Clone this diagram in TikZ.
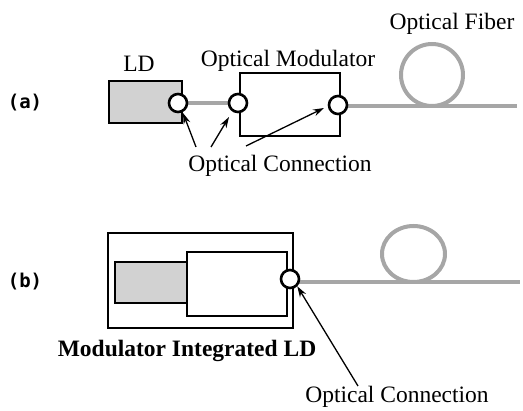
\documentclass[tikz,border=0pt]{standalone}
\usepackage{fontspec}
\setmainfont{Liberation Serif}
\newfontfamily\labfont{DejaVu Sans Mono}
\usetikzlibrary{arrows.meta}
\tikzset{
  box/.style={draw=black, line width=2.6pt},
  ldfill/.style={fill=gray!35},
  fiber/.style={draw=gray!70, line width=4pt},
  conn/.style={circle, draw=black, line width=2.6pt, fill=white, minimum size=18pt, inner sep=0pt},
  txt/.style={inner sep=0pt, anchor=base, font=\fontsize{23.5}{28}\selectfont},
  lab/.style={inner sep=0pt, font=\labfont\bfseries\fontsize{19}{22}\selectfont},
  pointer/.style={draw=black, line width=1.3pt, -{Stealth[length=11pt,width=7pt]}}
}
\begin{document}
\begin{tikzpicture}[x=1pt,y=-1pt]
\useasboundingbox (0,0) rectangle (523,411);
% ---------- (a) ----------
\node[lab] (la) at (25,103) {(a)};
\draw[fiber] (432,75) circle (31);
\coordinate (fa1) at (348,106);
\coordinate (fa2) at (517,106);
\draw[fiber] (fa1) -- (fa2);
\draw[box, ldfill] (109,81) rectangle (182,123);
\draw[box, fill=white] (240,73) rectangle (340,136);
\draw[fiber] (186,103) -- (230,103);
\node[conn] (c1) at (178,103) {};
\node[conn] (c2) at (238,103) {};
\node[conn] (c3) at (338,105) {};
\node[txt] (ld) at (139,72) {LD};
\node[txt] (om) at (288,67) {Optical Modulator};
\node[txt] (of) at (452,30) {Optical Fiber};
\node[txt] (oca) at (280,172) {Optical Connection};
\coordinate (s1) at (196,147);
\coordinate (s2) at (211,147);
\coordinate (s3) at (246,146);
\draw[pointer] (s1) -- (183,113);
\draw[pointer] (s2) -- (229,117);
\draw[pointer] (s3) -- (324,108);
% ---------- (b) ----------
\node[lab] (lb) at (25,282) {(b)};
\draw[fiber] (413.5,254) ellipse (31.5 and 28);
\draw[fiber] (298,282) -- (520,282);
\draw[box, line width=2.2pt] (108,233) rectangle (293,328);
\draw[box, line width=2.2pt, ldfill] (115,262) rectangle (187,303);
\draw[box, line width=2.2pt] (187,252) rectangle (287,316);
\node[conn] (cb) at (290,279) {};
\node[txt, font=\bfseries\fontsize{23.5}{28}\selectfont] (mil) at (187,357) {Modulator Integrated LD};
\node[txt] (ocb) at (397,403) {Optical Connection};
\coordinate (s4) at (358,386);
\draw[pointer] (s4) -- (cb.south east);
\end{tikzpicture}
\end{document}
